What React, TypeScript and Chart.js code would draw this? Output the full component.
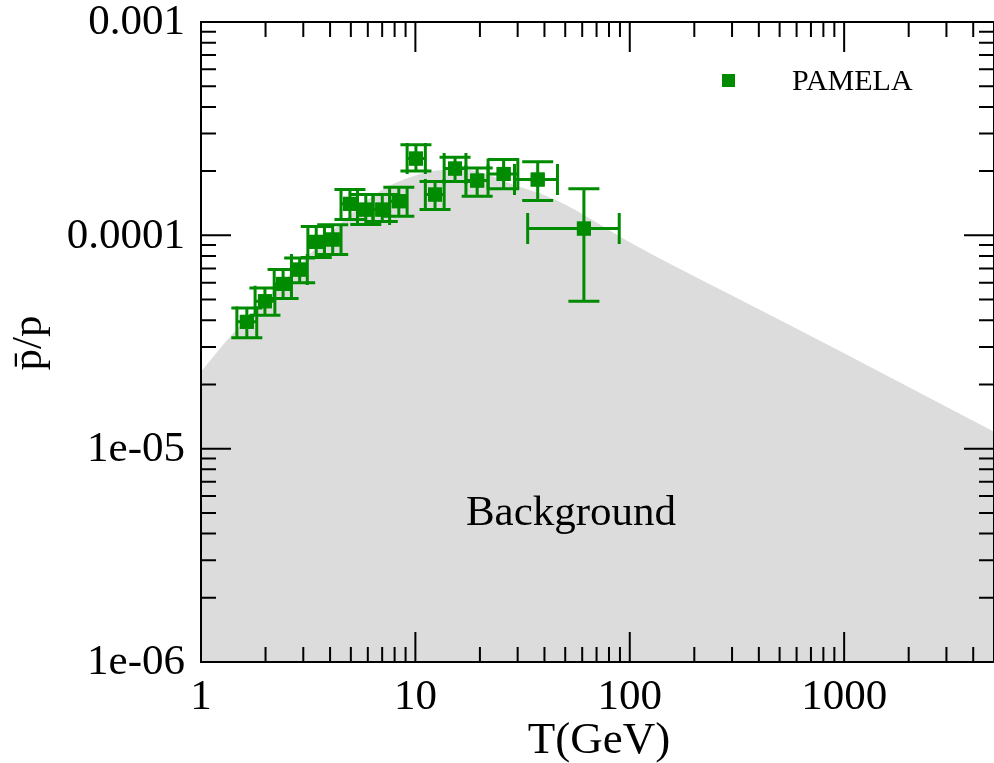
import React, { useEffect, useRef } from 'react';
import { Chart, registerables } from 'chart.js';

Chart.register(...registerables);

// PAMELA antiproton / proton ratio
const pamelaT = [1.636, 1.987, 2.415, 2.886, 3.447, 4.114, 4.951, 5.87, 7.007, 8.37, 10.06, 12.35, 15.31, 19.42, 25.8, 37.2, 61.1];
const pamelaRatio = [3.93e-5, 4.91e-5, 5.92e-5, 6.91e-5, 9.32e-5, 9.56e-5, 1.405e-4, 1.32e-4, 1.32e-4, 1.445e-4, 2.29e-4, 1.553e-4, 2.056e-4, 1.806e-4, 1.94e-4, 1.826e-4, 1.076e-4];
const pamelaTLow = [1.47, 1.788, 2.195, 2.642, 3.152, 3.766, 4.499, 5.37, 6.346, 7.58, 9.15, 11.13, 13.62, 17.21, 21.83, 29.0, 33.4];
const pamelaTHigh = [1.82, 2.211, 2.642, 3.132, 3.766, 4.499, 5.37, 6.346, 7.58, 9.15, 11.13, 13.62, 17.21, 21.83, 30.05, 46.0, 89.3];
const pamelaRatioLow = [3.31e-5, 4.22e-5, 5.06e-5, 5.99e-5, 7.87e-5, 8.13e-5, 1.186e-4, 1.123e-4, 1.16e-4, 1.23e-4, 2.0e-4, 1.32e-4, 1.79e-4, 1.525e-4, 1.652e-4, 1.455e-4, 4.91e-5];
const pamelaRatioHigh = [4.57e-5, 5.67e-5, 6.91e-5, 7.84e-5, 1.1e-4, 1.12e-4, 1.64e-4, 1.553e-4, 1.553e-4, 1.68e-4, 2.66e-4, 1.79e-4, 2.32e-4, 2.07e-4, 2.266e-4, 2.21e-4, 1.652e-4];

// Background band upper edge
const bgT = [1, 1.394, 2, 3.21, 4.42, 5.87, 7.26, 9.31, 11.9, 16.7, 30.05, 45, 108, 300, 1000, 5000];
const bgRatio = [2.3e-5, 3.43e-5, 4.98e-5, 8.13e-5, 1.123e-4, 1.445e-4, 1.67e-4, 1.86e-4, 2.0e-4, 2.035e-4, 1.7e-4, 1.47e-4, 8.89e-5, 5.22e-5, 2.8e-5, 1.2e-5];

// Axes
const xMin = 1;
const xMax = 5000;
const yMin = 1e-6;
const yMax = 1e-3;
const xMajorValues = [1, 10, 100, 1000];
const xTickLabels = ['1', '10', '100', '1000'];
const yMajorValues = [1e-3, 1e-4, 1e-5, 1e-6];
const yTickLabels = ['0.001', '0.0001', '1e-05', '1e-06'];
const xTitle = 'T(GeV)';
const yTitle = 'p\u0304/p';
const bandLabel = 'Background';
const seriesLabel = 'PAMELA';

const GREEN = '#008b00';
const GRAY = '#dcdcdc';
const FONT = '"Liberation Serif", "Times New Roman", serif';

const decoPlugin = {
  id: 'grace',
  afterDatasetsDraw(chart: any) {
    const ctx = chart.ctx;
    const xs = chart.scales.x;
    const ys = chart.scales.y;
    const cap = 15.5;
    ctx.save();
    ctx.strokeStyle = GREEN;
    ctx.lineWidth = 3;
    for (let i = 0; i < pamelaT.length; i++) {
      const px = xs.getPixelForValue(pamelaT[i]);
      const py = ys.getPixelForValue(pamelaRatio[i]);
      const xl = xs.getPixelForValue(pamelaTLow[i]);
      const xh = xs.getPixelForValue(pamelaTHigh[i]);
      const yl = ys.getPixelForValue(pamelaRatioLow[i]);
      const yh = ys.getPixelForValue(pamelaRatioHigh[i]);
      ctx.beginPath();
      ctx.moveTo(xl, py); ctx.lineTo(xh, py);
      ctx.moveTo(xl, py - cap); ctx.lineTo(xl, py + cap);
      ctx.moveTo(xh, py - cap); ctx.lineTo(xh, py + cap);
      ctx.moveTo(px, yl); ctx.lineTo(px, yh);
      ctx.moveTo(px - cap, yl); ctx.lineTo(px + cap, yl);
      ctx.moveTo(px - cap, yh); ctx.lineTo(px + cap, yh);
      ctx.stroke();
    }
    // markers on top of the bars
    ctx.fillStyle = GREEN;
    for (let i = 0; i < pamelaT.length; i++) {
      const px = xs.getPixelForValue(pamelaT[i]);
      const py = ys.getPixelForValue(pamelaRatio[i]);
      ctx.fillRect(px - 7, py - 7, 14, 14);
    }
    ctx.restore();
  },
  afterDraw(chart: any) {
    const ctx = chart.ctx;
    const xs = chart.scales.x;
    const ys = chart.scales.y;
    const ca = chart.chartArea;
    ctx.save();
    ctx.strokeStyle = '#000';
    ctx.lineWidth = 2;
    // frame
    ctx.beginPath();
    ctx.moveTo(ca.left, ca.top); ctx.lineTo(ca.right, ca.top);
    ctx.lineTo(ca.right, ca.bottom); ctx.lineTo(ca.left, ca.bottom);
    ctx.closePath();
    ctx.stroke();
    // x ticks (bottom and top, inward)
    ctx.beginPath();
    for (const d of xMajorValues) {
      for (let k = 1; k <= 9; k++) {
        const v = d * k;
        if (v < xMin || v > xMax) continue;
        const p = xs.getPixelForValue(v);
        const len = k === 1 ? 30 : 15;
        ctx.moveTo(p, ca.bottom); ctx.lineTo(p, ca.bottom - len);
        ctx.moveTo(p, ca.top); ctx.lineTo(p, ca.top + len);
      }
    }
    // y ticks (left and right, inward)
    for (const d of yMajorValues) {
      for (let k = 1; k <= 9; k++) {
        const v = d * k;
        if (v < yMin * 0.999 || v > yMax * 1.001) continue;
        const p = ys.getPixelForValue(v);
        const len = k === 1 ? 30 : 15;
        ctx.moveTo(ca.left, p); ctx.lineTo(ca.left + len, p);
        ctx.moveTo(ca.right, p); ctx.lineTo(ca.right - len, p);
      }
    }
    ctx.stroke();

    // tick labels
    ctx.fillStyle = '#000';
    ctx.font = `43px ${FONT}`;
    ctx.textAlign = 'center';
    ctx.textBaseline = 'middle';
    xMajorValues.forEach((v, i) => {
      ctx.fillText(xTickLabels[i], xs.getPixelForValue(v), ca.bottom + 36);
    });
    ctx.textAlign = 'right';
    yMajorValues.forEach((v, i) => {
      ctx.fillText(yTickLabels[i], ca.left - 16, ys.getPixelForValue(v) + 1);
    });

    // axis titles
    ctx.font = `45px ${FONT}`;
    ctx.textAlign = 'center';
    ctx.fillText(xTitle, 599, 741);
    ctx.save();
    ctx.translate(30, 343);
    ctx.rotate(-Math.PI / 2);
    ctx.font = `43px ${FONT}`;
    ctx.fillText(yTitle, 0, 0);
    ctx.restore();

    // band label
    ctx.font = `43px ${FONT}`;
    ctx.fillText(bandLabel, 571, 514);

    // legend
    ctx.fillStyle = GREEN;
    ctx.fillRect(722, 74, 13, 13);
    ctx.fillStyle = '#000';
    ctx.font = `30px ${FONT}`;
    ctx.textAlign = 'left';
    ctx.fillText(seriesLabel, 792, 82);
    ctx.restore();
  },
};

export default function App() {
  const ref = useRef<HTMLCanvasElement | null>(null);
  useEffect(() => {
    if (!ref.current) return;
    const chart = new Chart(ref.current, {
      type: 'scatter',
      data: {
        datasets: [
          {
            type: 'line',
            label: bandLabel,
            data: bgT.map((t, i) => ({ x: t, y: bgRatio[i] })),
            fill: 'start',
            backgroundColor: GRAY,
            borderColor: 'rgba(0,0,0,0)',
            borderWidth: 0,
            pointRadius: 0,
            cubicInterpolationMode: 'monotone',
            order: 2,
          } as any,
          {
            type: 'scatter',
            label: seriesLabel,
            data: pamelaT.map((t, i) => ({ x: t, y: pamelaRatio[i] })),
            pointStyle: 'rect',
            pointRadius: 9.9,
            backgroundColor: GREEN,
            borderWidth: 0,
            order: 1,
          } as any,
        ],
      },
      options: {
        animation: false,
        responsive: false,
        devicePixelRatio: 1,
        layout: { autoPadding: false, padding: { left: 201, top: 22, right: -6, bottom: 101 } },
        plugins: { legend: { display: false }, tooltip: { enabled: false } },
        scales: {
          x: { type: 'logarithmic', min: xMin, max: xMax, display: false },
          y: { type: 'logarithmic', min: yMin, max: yMax, display: false },
        },
      } as any,
      plugins: [decoPlugin],
    });
    return () => chart.destroy();
  }, []);
  return (
    <div style={{ position: 'absolute', left: 0, top: 0, width: 994, height: 763, overflow: 'hidden', background: '#fff' }}>
      <canvas ref={ref} width={994} height={763} style={{ display: 'block', width: 994, height: 763 }} />
    </div>
  );
}
